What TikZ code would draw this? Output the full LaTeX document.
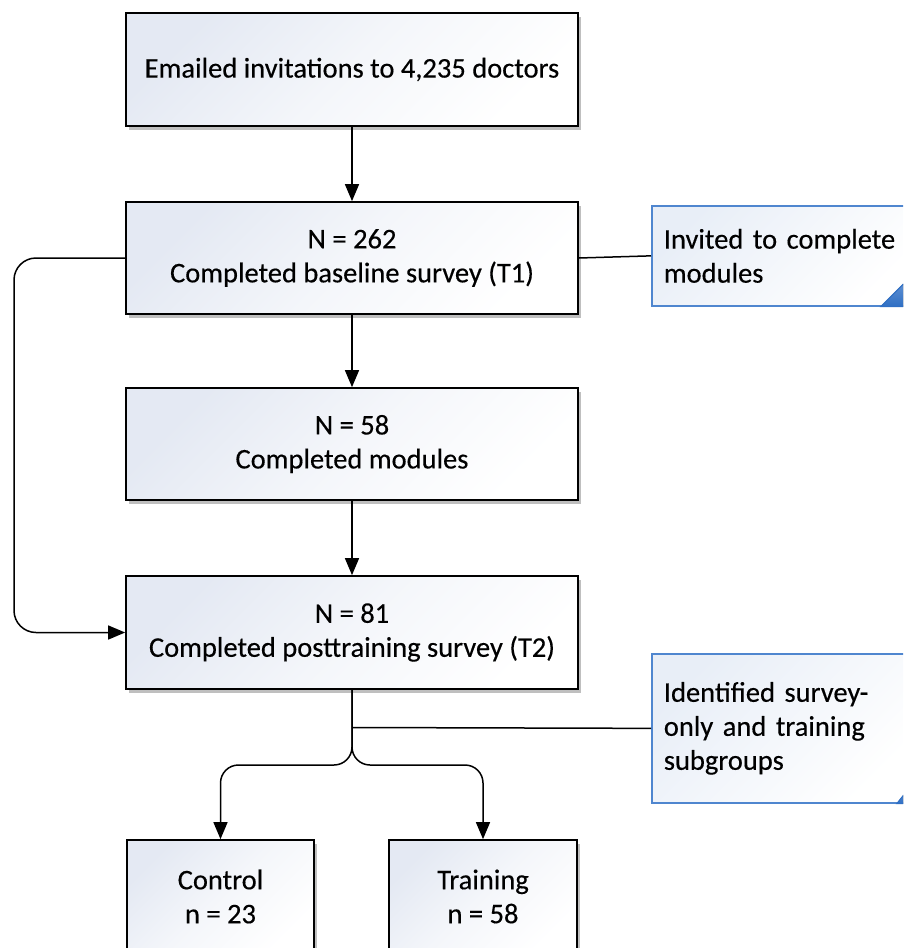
\documentclass[tikz,border=0pt]{standalone}
\usepackage{fontspec}
\setmainfont{Carlito}[FakeBold=0.35]
\usetikzlibrary{arrows.meta,shadows,calc}
\definecolor{boxtop}{HTML}{E4E9F3}
\definecolor{notetop}{HTML}{E8EEF7}
\definecolor{noteblue}{HTML}{4F86CF}
\definecolor{foldblue}{HTML}{2F6FC4}
\begin{document}
\begin{tikzpicture}[x=1pt,y=-1pt,
  font=\fontsize{28.5}{34}\selectfont,
  flowbox/.style={draw=black, line width=1.7pt, top color=boxtop, bottom color=white,
    middle color=boxtop!40, shading angle=45, align=center, inner sep=0pt,
    drop shadow={shadow xshift=3pt, shadow yshift=-3.5pt, fill=gray, opacity=0.5}},
  notebox/.style={draw=noteblue, line width=1.7pt, top color=notetop, bottom color=white,
    shading angle=45, text width=235pt, align=left, inner xsep=12pt, inner ysep=0pt,
    anchor=north west},
  arr/.style={draw=black, line width=1.5pt, -{Triangle[length=17pt,width=14pt]}},
  link/.style={draw=black, line width=1.5pt}]
\clip (0,0) rectangle (903,948);
\useasboundingbox (0,0) rectangle (903,948);

% main boxes
\node[flowbox, minimum width=452pt, minimum height=113pt] (invite) at (352,69.5)
  {Emailed invitations to 4,235 doctors};
\node[flowbox, minimum width=452pt, minimum height=112pt] (base) at (352,258)
  {N = 262\\Completed baseline survey (T1)};
\node[flowbox, minimum width=452pt, minimum height=112pt] (mods) at (352,444)
  {N = 58\\Completed modules};
\node[flowbox, minimum width=452pt, minimum height=113pt] (post) at (352,632.5)
  {N = 81\\Completed posttraining survey (T2)};
\node[flowbox, minimum width=187pt, minimum height=113pt] (ctrl) at (220.5,896.5)
  {Control\\n = 23};
\node[flowbox, minimum width=188pt, minimum height=113pt] (train) at (483,896.5)
  {Training\\n = 58};

% notes
\node[notebox, minimum height=100pt] (invited) at (651,205)
  {Invited to complete\\modules};
\node[notebox, minimum height=149pt] (ident) at (651,653)
  {Identified survey-\\only and training\\subgroups};

% folded corners
\fill[white] ($(invited.south east)+(-32,1.5)$) -- ($(invited.south east)+(2,1.5)$)
  -- ($(invited.south east)+(2,-34)$) -- cycle;
\filldraw[draw=foldblue, line width=1pt, top color=foldblue!70, bottom color=foldblue]
  ($(invited.south east)+(-31,0)$) -- ($(invited.south east)+(0,-31)$)
  -- ($(invited.south east)+(0,0)$) -- cycle;
\fill[white] ($(ident.south east)+(-16,1.5)$) -- ($(ident.south east)+(2,1.5)$)
  -- ($(ident.south east)+(2,-20)$) -- cycle;
\filldraw[draw=foldblue, line width=1pt, top color=foldblue!70, bottom color=foldblue]
  ($(ident.south east)+(-15,0)$) -- ($(ident.south east)+(0,-19)$)
  -- ($(ident.south east)+(0,0)$) -- cycle;

% connectors
\draw[arr] (invite) -- (base);
\draw[arr] (base) -- (mods);
\draw[arr] (mods) -- (post);
\draw[link] (base.east) -- (invited.west);
\draw[arr, rounded corners=22pt] (base.west) -- (14,258) -- (14,632.5) -- (post.west);

\coordinate (tee) at (352,727.5);
\coordinate (split) at (352,765);
\draw[link] (tee) -- (ident.west);
\draw[arr, rounded corners=18pt] (post.south) -- (split) -- (ctrl.north |- split) -- (ctrl.north);
\draw[arr, rounded corners=18pt] (post.south) -- (split) -- (train.north |- split) -- (train.north);
\end{tikzpicture}
\end{document}
